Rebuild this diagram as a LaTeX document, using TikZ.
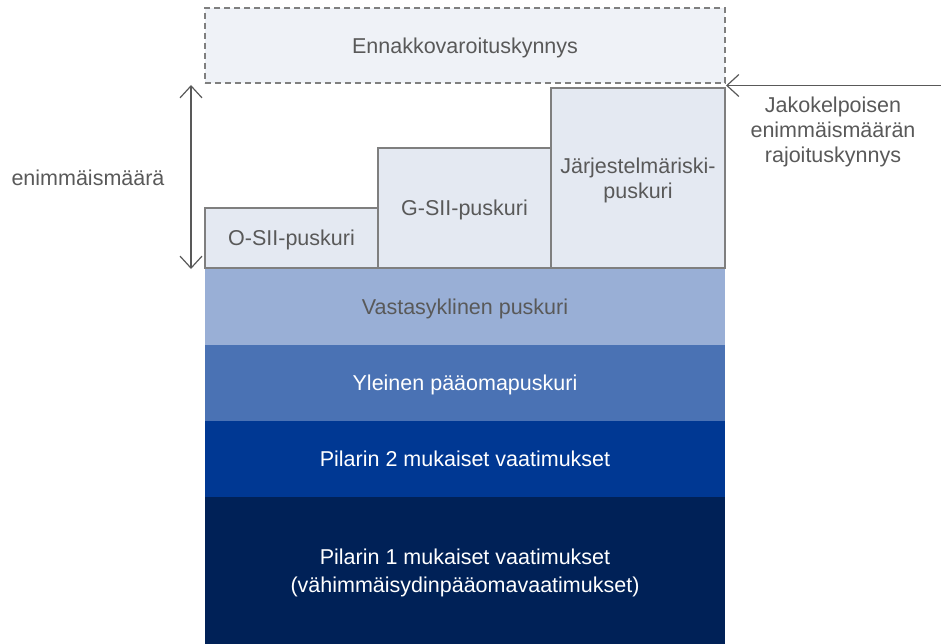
\documentclass[tikz,border=0pt]{standalone}
\usepackage{fontspec}
\setmainfont{Liberation Sans}
\usepackage{xcolor}
\usepackage{tikz}
\usetikzlibrary{arrows.meta, positioning}
\definecolor{txtgray}{HTML}{595959}
\definecolor{edgegray}{HTML}{7F7F7F}
\definecolor{warnfill}{HTML}{EFF2F7}
\definecolor{stepfill}{HTML}{E4E9F2}
\definecolor{ccyb}{HTML}{99AFD6}
\definecolor{ccb}{HTML}{4A72B4}
\definecolor{pilartwo}{HTML}{003893}
\definecolor{pilarone}{HTML}{002157}
\tikzset{
  lbl/.style={font=\fontsize{21.5}{25}\selectfont, text=txtgray, align=center},
  layer/.style={rectangle, inner sep=0pt, outer sep=0pt, minimum width=520pt,
                align=center, text depth=0pt,
                font=\fontsize{21.5}{28}\selectfont},
  stepbox/.style={rectangle, draw=edgegray, line width=1.2pt, fill=stepfill,
                  inner sep=0pt, outer sep=0pt, anchor=south west,
                  align=center, text=txtgray, text depth=0pt,
                  font=\fontsize{21.5}{25}\selectfont},
  warnbox/.style={rectangle, draw=edgegray, line width=1.2pt, fill=warnfill,
                  dash pattern=on 6pt off 4pt, inner sep=0pt, text depth=0pt,
                  minimum width=520pt, minimum height=75pt, text=txtgray,
                  font=\fontsize{21.5}{25}\selectfont},
  barb/.tip={Straight Barb[length=12pt, width=22pt, line width=1.2pt]},
  marr/.style={-barb, line width=1.3pt, draw=txtgray},
  darr/.style={barb-barb, line width=1.3pt, draw=txtgray}
}
\begin{document}
\begin{tikzpicture}[x=1pt, y=-1pt, node distance=0pt]
  \useasboundingbox (0,0) rectangle (941,644);
  %% -- capital layers, bottom up --
  \node[layer, fill=pilarone, text=white, minimum height=147pt] at (465,570.5) (p1)
    {Pilarin 1 mukaiset vaatimukset\\(vähimmäisydinpääomavaatimukset)};
  \node[layer, fill=pilartwo, text=white, minimum height=76pt, above=of p1] (p2)
    {Pilarin 2 mukaiset vaatimukset};
  \node[layer, fill=ccb, text=white, minimum height=76pt, above=of p2] (ccb)
    {Yleinen pääomapuskuri};
  \node[layer, fill=ccyb, text=txtgray, minimum height=77pt, above=of ccb] (ccyb)
    {Vastasyklinen puskuri};

  %% -- systemic buffers --
  \node[stepbox, minimum width=173pt, minimum height=60pt] at (ccyb.north west) (osii)
    {O-SII-puskuri};
  \node[stepbox, minimum width=173pt, minimum height=120pt] at (osii.south east) (gsii)
    {G-SII-puskuri};
  \node[stepbox, minimum width=174pt, minimum height=180pt] at (gsii.south east) (srb)
    {Järjestelmäriski-\\puskuri};

  %% -- warning threshold --
  \node[warnbox] at (465,45.5) (warn) {Ennakkovaroituskynnys};

  %% -- maximum distributable amount --
  \coordinate (mdatip) at (726,85.5);
  \coordinate (mdasrc) at (941,85.5);
  \draw[marr] (mdasrc) -- (mdatip);
  \node[lbl] at (833,132) (mda) {Jakokelpoisen\\enimmäismäärän\\rajoituskynnys};

  \coordinate (amttop) at (191,85);
  \coordinate (amtbot) at (191,269);
  \draw[darr] (amttop) -- (amtbot);
  \node[lbl] at (88,178) (amt) {enimmäismäärä};
\end{tikzpicture}
\end{document}
